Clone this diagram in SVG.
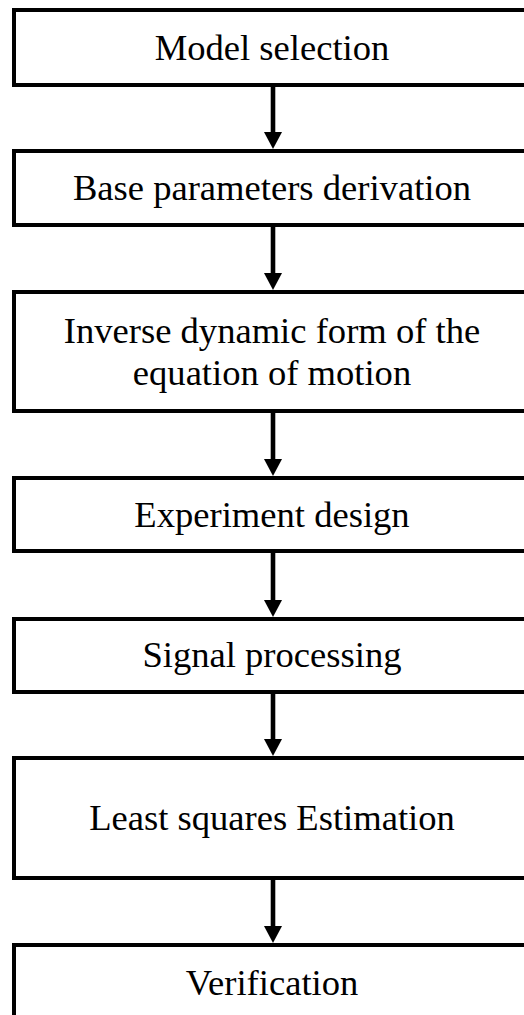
<svg xmlns="http://www.w3.org/2000/svg" width="524" height="1015" viewBox="0 0 524 1015">
  <style>
    .box { fill: #ffffff; stroke: #000000; stroke-width: 4; }
    .label { font-size: 36.6px; fill: #000000; text-anchor: middle; }
    .wire { stroke: #000000; stroke-width: 4.6; fill: none; }
    .head { fill: #000000; stroke: none; }
  </style>
  <rect width="524" height="1015" fill="#ffffff"/>

  <!-- process steps -->
  <g id="steps" font-family="Liberation Serif, Tinos, Times New Roman, DejaVu Serif, serif">
    <g id="model-selection">
      <rect class="box" x="14" y="10" width="518" height="75"/>
      <text class="label" x="272" y="59.5">Model selection</text>
    </g>
    <g id="base-parameters">
      <rect class="box" x="14" y="151" width="518" height="74"/>
      <text class="label" x="272" y="200">Base parameters derivation</text>
    </g>
    <g id="inverse-dynamic">
      <rect class="box" x="14" y="292" width="518" height="119"/>
      <text class="label" x="272" y="342.5">Inverse dynamic form of the</text>
      <text class="label" x="272" y="385">equation of motion</text>
    </g>
    <g id="experiment-design">
      <rect class="box" x="14" y="478" width="518" height="73"/>
      <text class="label" x="272" y="527">Experiment design</text>
    </g>
    <g id="signal-processing">
      <rect class="box" x="14" y="619" width="518" height="73"/>
      <text class="label" x="272" y="667">Signal processing</text>
    </g>
    <g id="least-squares">
      <rect class="box" x="14" y="758" width="518" height="120"/>
      <text class="label" x="272" y="830">Least squares Estimation</text>
    </g>
    <g id="verification">
      <rect class="box" x="14" y="945" width="518" height="78"/>
      <text class="label" x="272" y="995">Verification</text>
    </g>
  </g>

  <!-- connectors: shaft plus filled head -->
  <g id="connectors">
    <line class="wire" x1="273" y1="87" x2="273" y2="134"/>
    <polygon class="head" points="264,132 282,132 273,149"/>

    <line class="wire" x1="273" y1="227" x2="273" y2="275"/>
    <polygon class="head" points="264,273 282,273 273,290"/>

    <line class="wire" x1="273" y1="413" x2="273" y2="461"/>
    <polygon class="head" points="264,459 282,459 273,476"/>

    <line class="wire" x1="273" y1="553" x2="273" y2="602"/>
    <polygon class="head" points="264,600 282,600 273,617"/>

    <line class="wire" x1="273" y1="694" x2="273" y2="741"/>
    <polygon class="head" points="264,739 282,739 273,756"/>

    <line class="wire" x1="273" y1="880" x2="273" y2="928"/>
    <polygon class="head" points="264,926 282,926 273,943"/>
  </g>
</svg>
